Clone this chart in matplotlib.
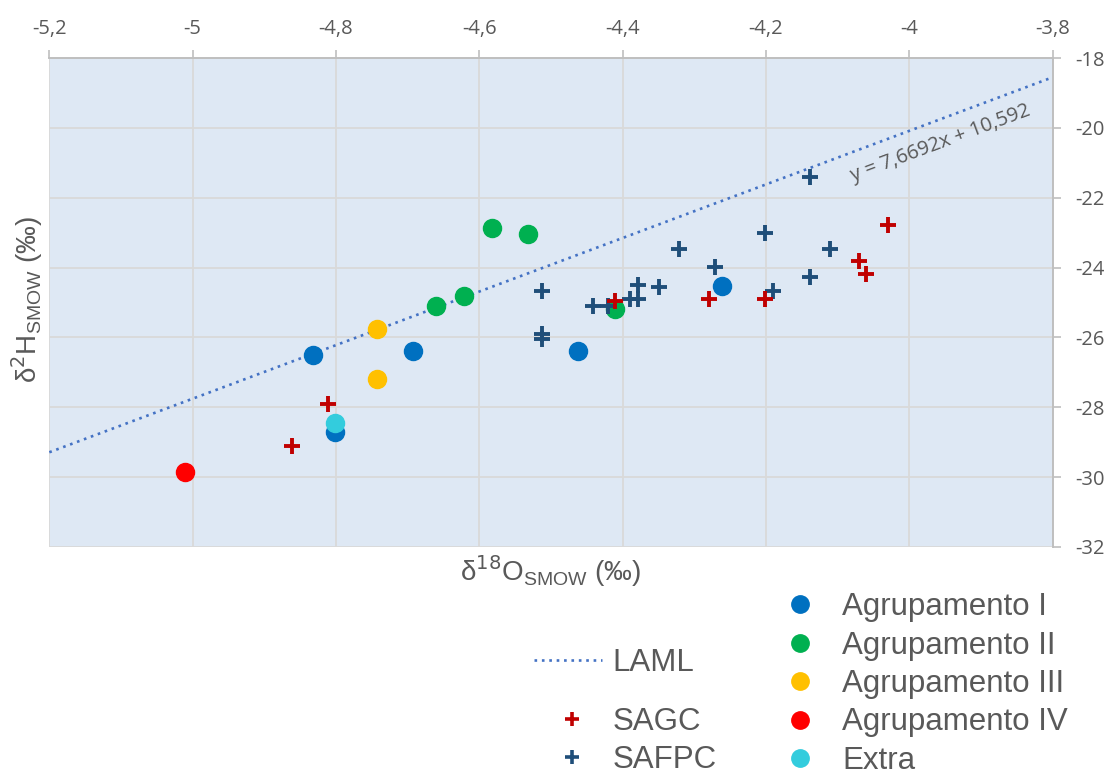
import matplotlib
matplotlib.use("Agg")
import matplotlib.pyplot as plt
from matplotlib.lines import Line2D
import numpy as np

# ---------------- data ----------------
ag1_x = [-4.832, -4.692, -4.463, -4.801, -4.261]
ag1_y = [-26.50, -26.38, -26.38, -28.70, -24.54]
ag2_x = [-4.583, -4.532, -4.622, -4.661, -4.411]
ag2_y = [-22.86, -23.03, -24.82, -25.11, -25.18]
ag3_x = [-4.743, -4.743]
ag3_y = [-25.76, -27.19]
ag4_x = [-5.011]
ag4_y = [-29.84]
extra_x = [-4.801]
extra_y = [-28.44]

sagc_x = [-4.811, -4.862, -4.411, -4.279, -4.201, -4.070, -4.061, -4.030]
sagc_y = [-27.91, -29.11, -24.97, -24.91, -24.91, -23.82, -24.18, -22.79]

safpc_x = [-4.512, -4.512, -4.512, -4.442, -4.421, -4.390, -4.379, -4.379,
           -4.349, -4.321, -4.271, -4.201, -4.190, -4.139, -4.139, -4.111]
safpc_y = [-24.67, -25.90, -26.04, -25.09, -25.09, -24.89, -24.89, -24.49,
           -24.56, -23.46, -23.98, -23.01, -24.67, -21.40, -24.27, -23.46]

laml_slope = 7.6692
laml_intercept = 10.592
laml_label = "y = 7,6692x + 10,592"

x_ticks = [-5.2, -5.0, -4.8, -4.6, -4.4, -4.2, -4.0, -3.8]
x_ticklabels = ["-5,2", "-5", "-4,8", "-4,6", "-4,4", "-4,2", "-4", "-3,8"]
y_ticks = [-32, -30, -28, -26, -24, -22, -20, -18]
y_ticklabels = ["-32", "-30", "-28", "-26", "-24", "-22", "-20", "-18"]

# ---------------- style ----------------
c_ag1 = "#0070C0"
c_ag2 = "#00B050"
c_ag3 = "#FFC000"
c_ag4 = "#FF0000"
c_extra = "#33CCDD"
c_sagc = "#C00000"
c_safpc = "#1F4E79"
c_line = "#4472C4"
c_text = "#595959"

W, H = 1109, 774
fig = plt.figure(figsize=(W / 100, H / 100), dpi=100)
ax = fig.add_axes([49.3 / W, 1 - 547 / H, 1003.4 / W, (547 - 58) / H])
ax.set_facecolor("#DEE8F4")
ax.set_xlim(-5.2, -3.8)
ax.set_ylim(-32, -18)

ax.set_xticks(x_ticks)
ax.set_xticklabels(x_ticklabels)
ax.set_yticks(y_ticks)
ax.set_yticklabels(y_ticklabels)
ax.xaxis.tick_top()
ax.yaxis.tick_right()
ax.tick_params(axis="both", colors="#BFBFBF", labelcolor=c_text, labelsize=14.5,
               length=6, width=1.2)
ax.tick_params(axis="x", pad=7.5)
ax.tick_params(axis="y", pad=10)
for lab in ax.get_xticklabels() + ax.get_yticklabels():
    lab.set_family("Open Sans")
ax.grid(True, color="#D9D9D9", linewidth=1.3)
ax.set_axisbelow(True)
for s in ["left", "bottom"]:
    ax.spines[s].set_visible(False)
for s in ["top", "right"]:
    ax.spines[s].set_color("#BFBFBF")
    ax.spines[s].set_linewidth(1.4)

# trend line
lx = np.array([-5.2, -3.8])
ax.plot(lx, laml_slope * lx + laml_intercept, linestyle=(0, (1, 1.8)),
        color=c_line, linewidth=1.9, zorder=2)
ang = np.degrees(np.arctan(laml_slope * (489 / 14) / (1003.4 / 1.4)))
ax.text(-3.957, -20.45, laml_label, rotation=ang, rotation_mode="anchor",
        ha="center", va="center", color=c_text, fontsize=14.5, family="Open Sans")

ms = 13
ax.plot(ag1_x, ag1_y, "o", color=c_ag1, ms=ms, zorder=3)
ax.plot(ag2_x, ag2_y, "o", color=c_ag2, ms=ms, zorder=3)
ax.plot(ag3_x, ag3_y, "o", color=c_ag3, ms=ms, zorder=3)
ax.plot(ag4_x, ag4_y, "o", color=c_ag4, ms=ms, zorder=3)
ax.plot(extra_x, extra_y, "o", color=c_extra, ms=ms, zorder=4)
ax.plot(safpc_x, safpc_y, "+", color=c_safpc, ms=11, mew=2.8, zorder=5)
ax.plot(sagc_x, sagc_y, "+", color=c_sagc, ms=11, mew=2.8, zorder=6)

# axis labels
fig.text(550 / W, 1 - 571 / H, r"δ$^{18}$O$_{\mathregular{SMOW}}$ (‰)", ha="center", va="center",
         fontsize=20, color=c_text, family="Liberation Sans")
fig.text(27 / W, 1 - 300 / H, r"δ$^{2}$H$_{\mathregular{SMOW}}$ (‰)", ha="center", va="center",
         rotation=90, fontsize=20, color=c_text, family="Liberation Sans")

# legends
fs = 22.5
fpx = fs * 100 / 72
leg_font = {"family": "Liberation Sans", "size": fs}

h_circ = [Line2D([], [], ls="", marker="o", color=c, ms=12.5) for c in
          [c_ag1, c_ag2, c_ag3, c_ag4, c_extra]]
l_circ = ["Agrupamento I", "Agrupamento II", "Agrupamento III", "Agrupamento IV", "Extra"]
hl = 0.8
leg1 = fig.legend(h_circ, l_circ, loc="center left",
                  bbox_to_anchor=((800 - hl * fpx / 2) / W, 1 - 684 / H),
                  frameon=False, prop=leg_font, labelspacing=0.27,
                  handletextpad=(842 - 800 - hl * fpx / 2) / fpx, handlelength=hl,
                  borderaxespad=0, borderpad=0)
for t in leg1.get_texts():
    t.set_color(c_text)

h_l = [Line2D([], [], ls=(0, (1, 1.8)), color=c_line, lw=1.9)]
leg2 = fig.legend(h_l, ["LAML"], loc="center left", bbox_to_anchor=(534 / W, 1 - 663 / H),
                  frameon=False, prop=leg_font, handlelength=68 / fpx,
                  handletextpad=10 / fpx, borderaxespad=0, borderpad=0)
for t in leg2.get_texts():
    t.set_color(c_text)

h_p = [Line2D([], [], ls="", marker="+", color=c, ms=10, mew=2.6) for c in [c_sagc, c_safpc]]
leg3 = fig.legend(h_p, ["SAGC", "SAFPC"], loc="center left",
                  bbox_to_anchor=((572 - hl * fpx / 2) / W, 1 - 741 / H),
                  frameon=False, prop=leg_font, labelspacing=0.27, handlelength=hl,
                  handletextpad=(613 - 572 - hl * fpx / 2) / fpx,
                  borderaxespad=0, borderpad=0)
for t in leg3.get_texts():
    t.set_color(c_text)

fig.savefig("out.png", dpi=100)
